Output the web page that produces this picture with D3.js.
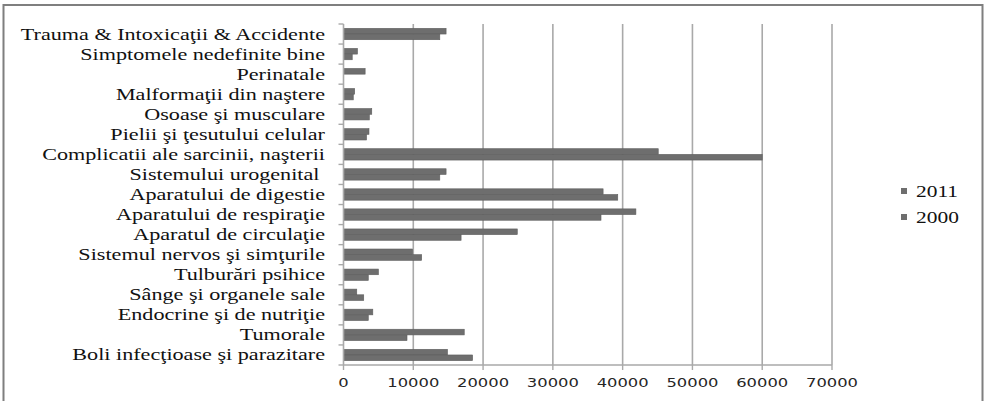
<!DOCTYPE html>
<html>
<head>
<meta charset="utf-8">
<script src="https://cdn.jsdelivr.net/npm/d3@7"></script>
<style>
  html, body { margin: 0; padding: 0; background: #fff; }
  svg { display: block; }
  text { white-space: pre; }
</style>
</head>
<body>
<script>
// Hospital discharges by disease group, 2011 vs 2000
const categories = [
  "Trauma & Intoxicaţii & Accidente",
  "Simptomele nedefinite bine",
  "Perinatale",
  "Malformaţii din naştere",
  "Osoase şi musculare",
  "Pielii şi ţesutului celular",
  "Complicatii ale sarcinii, naşterii",
  "Sistemului urogenital ",
  "Aparatului de digestie",
  "Aparatului de respiraţie",
  "Aparatul de circulaţie",
  "Sistemul nervos şi simţurile",
  "Tulburări psihice",
  "Sânge şi organele sale",
  "Endocrine şi de nutriţie",
  "Tumorale",
  "Boli infecţioase şi parazitare"
];
const seriesNames = ["2011", "2000"];
const values2011 = [14700, 2000, 3100, 1600, 4050, 3650, 45100, 14700, 37200, 41900, 24900, 9900, 5000, 1900, 4200, 17300, 14900];
const values2000 = [13800, 1250, 0, 1400, 3700, 3300, 60000, 13800, 39300, 36900, 16850, 11200, 3550, 2900, 3550, 9100, 18500];
const xTicks = [0, 10000, 20000, 30000, 40000, 50000, 60000, 70000];

const W = 986, H = 401;
const plot = { left: 343.5, right: 832, top: 24, bottom: 365 };
const barColor = "#6e6e6e";
const gridColor = "#a9a9a9";

const svg = d3.select("body").append("svg").attr("width", W).attr("height", H);

// outer frame
svg.append("rect")
  .attr("x", 3.5).attr("y", 5).attr("width", 979).attr("height", 400)
  .attr("fill", "#fff").attr("stroke", "#7f7f7f").attr("stroke-width", 2);

const x = d3.scaleLinear().domain([0, 70000]).range([plot.left, plot.right]);
const y = d3.scaleBand().domain(categories).range([plot.top, plot.bottom]).padding(0);
const bw = y.bandwidth();
const y1 = d3.scaleBand().domain(seriesNames).range([bw * 0.217, bw * 0.783]).padding(0);

// vertical gridlines
svg.append("g").selectAll("line").data(xTicks.slice(1)).join("line")
  .attr("x1", d => x(d)).attr("x2", d => x(d))
  .attr("y1", plot.top).attr("y2", plot.bottom)
  .attr("stroke", gridColor).attr("stroke-width", 1.6);

// bars
const rows = categories.map((c, i) => ({ c, vals: [values2011[i], values2000[i]] }));
const g = svg.append("g");
rows.forEach(r => {
  r.vals.forEach((v, j) => {
    if (v <= 0) return;
    g.append("rect")
      .attr("x", x(0))
      .attr("y", y(r.c) + y1(seriesNames[j]))
      .attr("width", x(v) - x(0))
      .attr("height", y1.bandwidth())
      .attr("fill", barColor)
      .attr("stroke", "#5e5e5e").attr("stroke-width", 0.6);
  });
});

// category axis
const yAxis = svg.append("g").attr("transform", `translate(${plot.left},0)`);
yAxis.append("line").attr("x1", 0).attr("x2", 0).attr("y1", plot.top).attr("y2", plot.bottom)
  .attr("stroke", gridColor).attr("stroke-width", 1.6);
const bounds = categories.map(c => y(c)).concat([plot.bottom]);
yAxis.selectAll("line.tk").data(bounds).join("line").attr("class", "tk")
  .attr("x1", -5).attr("x2", 0).attr("y1", d => d).attr("y2", d => d)
  .attr("stroke", gridColor).attr("stroke-width", 1.4);

const labelScale = 1.385;
svg.append("g").selectAll("text").data(categories).join("text")
  .attr("transform", d => `translate(325,${y(d) + bw / 2 + 5.5}) scale(${labelScale},1)`)
  .attr("text-anchor", "end")
  .attr("font-family", "'Liberation Serif', 'Times New Roman', serif")
  .attr("font-size", 16)
  .attr("fill", "#111")
  .text(d => d);

// value axis
const xAxis = svg.append("g").attr("transform", `translate(0,${plot.bottom})`);
xAxis.append("line").attr("x1", plot.left).attr("x2", plot.right).attr("y1", 0).attr("y2", 0)
  .attr("stroke", gridColor).attr("stroke-width", 1.6);
xAxis.selectAll("line.tk").data(xTicks).join("line").attr("class", "tk")
  .attr("x1", d => x(d)).attr("x2", d => x(d)).attr("y1", 0).attr("y2", 5)
  .attr("stroke", gridColor).attr("stroke-width", 1.4);
xAxis.selectAll("text").data(xTicks).join("text")
  .attr("transform", d => `translate(${x(d)},22) scale(1.33,1)`)
  .attr("text-anchor", "middle")
  .attr("font-family", "'DejaVu Sans', Verdana, sans-serif")
  .attr("font-size", 12.3)
  .attr("fill", "#262626")
  .text(d => d);

// legend
const legend = svg.append("g");
seriesNames.forEach((s, i) => {
  const ly = 191 + i * 26;
  legend.append("rect").attr("x", 901).attr("y", ly - 3).attr("width", 6).attr("height", 6)
    .attr("fill", barColor);
  legend.append("text")
    .attr("transform", `translate(916,${ly + 5.5}) scale(1.3,1)`)
    .attr("font-family", "'Liberation Serif', 'Times New Roman', serif")
    .attr("font-size", 16.5)
    .attr("fill", "#111")
    .text(s);
});
</script>
</body>
</html>
